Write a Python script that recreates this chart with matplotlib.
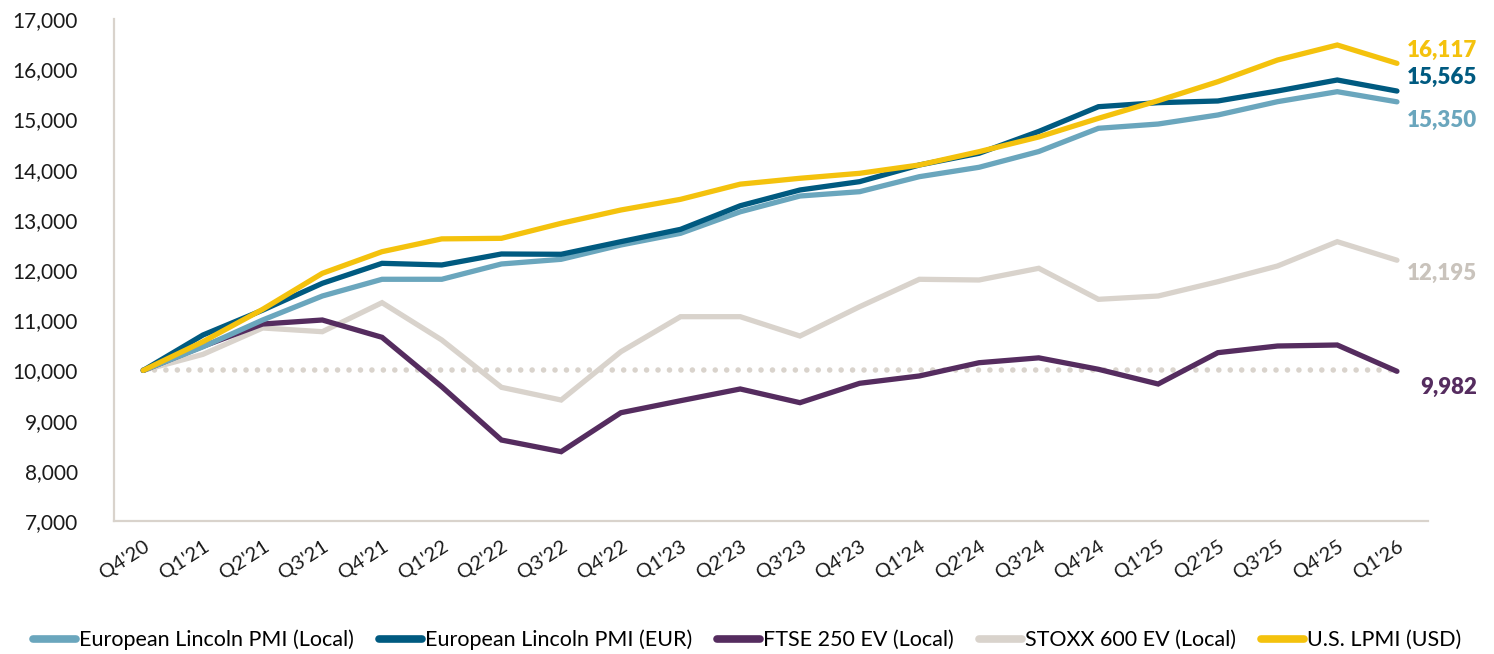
import matplotlib
matplotlib.use("Agg")
import matplotlib.pyplot as plt

plt.rcParams['font.family'] = ['Lato', 'DejaVu Sans']

quarters = ["Q4'20", "Q1'21", "Q2'21", "Q3'21", "Q4'21", "Q1'22", "Q2'22", "Q3'22",
            "Q4'22", "Q1'23", "Q2'23", "Q3'23", "Q4'23", "Q1'24", "Q2'24", "Q3'24",
            "Q4'24", "Q1'25", "Q2'25", "Q3'25", "Q4'25", "Q1'26"]

eu_local = [10000, 10470, 11004, 11482, 11815, 11815, 12120, 12213, 12498, 12731, 13160,
            13474, 13560, 13859, 14046, 14360, 14823, 14908, 15088, 15353, 15552, 15350]
eu_eur = [10000, 10705, 11200, 11735, 12133, 12100, 12319, 12313, 12564, 12810, 13280,
          13594, 13760, 14092, 14325, 14760, 15253, 15333, 15367, 15566, 15785, 15565]
ftse = [10000, 10480, 10924, 11004, 10659, 9675, 8613, 8381, 9157, 9396, 9630,
        9357, 9743, 9889, 10153, 10250, 10022, 9729, 10353, 10486, 10506, 9982]
stoxx = [10000, 10320, 10845, 10771, 11349, 10606, 9663, 9410, 10372, 11070, 11070,
         10685, 11269, 11815, 11801, 12034, 11416, 11482, 11767, 12080, 12564, 12195]
us = [10000, 10572, 11217, 11934, 12365, 12620, 12631, 12930, 13195, 13408, 13710,
      13827, 13926, 14092, 14357, 14650, 15022, 15373, 15751, 16183, 16482, 16117]
baseline = 10000

series = [
    ("European Lincoln PMI (Local)", eu_local, "#6aa6bd"),
    ("European Lincoln PMI (EUR)", eu_eur, "#005a80"),
    ("FTSE 250 EV (Local)", ftse, "#552c5f"),
    ("STOXX 600 EV (Local)", stoxx, "#d9d3cc"),
    ("U.S. LPMI (USD)", us, "#f4c20d"),
]
end_offsets = {  # pixel offsets for end labels (dy in px, positive = up)
    "European Lincoln PMI (Local)": -19,
    "European Lincoln PMI (EUR)": 14,
    "FTSE 250 EV (Local)": -16,
    "STOXX 600 EV (Local)": -13,
    "U.S. LPMI (USD)": 13,
}
end_text_colors = {
    "STOXX 600 EV (Local)": "#c9c3bc",
}

fig = plt.figure(figsize=(14.94, 6.54), dpi=100)
ax = fig.add_axes([114/1494, 1-521/654, (1428-114)/1494, (521-19)/654])

x = list(range(len(quarters)))
ax.plot(x, [baseline]*len(x), color="#d9d3cc", lw=4, linestyle=(0, (0.01, 2.05)),
        solid_capstyle='round', dash_capstyle='round', zorder=1)

order = ["STOXX 600 EV (Local)", "FTSE 250 EV (Local)", "European Lincoln PMI (Local)",
         "European Lincoln PMI (EUR)", "U.S. LPMI (USD)"]
lines = {}
for name, vals, col in series:
    ln, = ax.plot(x, vals, color=col, lw=3.8, solid_capstyle='round',
                  solid_joinstyle='miter', label=name, zorder=2 + order.index(name))
    lines[name] = ln
    ax.annotate(f"{vals[-1]:,}", xy=(x[-1], vals[-1]),
                xytext=(80*0.72, end_offsets[name]*0.72), textcoords='offset points',
                ha='right', va='center', fontsize=16, fontweight='heavy',
                color=end_text_colors.get(name, col), annotation_clip=False)

ax.set_xlim(-0.49, 21.52)
ax.set_ylim(7000, 17000)
ax.set_yticks(range(7000, 17001, 1000))
ax.set_yticklabels([f"{v:,}" for v in range(7000, 17001, 1000)])
ax.set_xticks(x)
ax.set_xticklabels(quarters, rotation=33, ha='right', va='top', rotation_mode='anchor')
ax.tick_params(axis='y', length=0, pad=26, labelsize=15, colors='#1a1a1a')
ax.tick_params(axis='x', length=0, pad=12, labelsize=14.5, colors='#1a1a1a')
for sp in ['top', 'right']:
    ax.spines[sp].set_visible(False)
for sp in ['left', 'bottom']:
    ax.spines[sp].set_color('#d9d3cc')
    ax.spines[sp].set_linewidth(1.6)

leg = fig.legend([lines[n] for n, _, _ in series], [n for n, _, _ in series],
                 loc='center', bbox_to_anchor=(0.5, 1-640/654), ncol=5, frameon=False,
                 fontsize=15.5, handlelength=2.0, handletextpad=0.15, columnspacing=1.15)
for h in leg.get_lines():
    h.set_linewidth(5.5)

fig.savefig("out.png", dpi=100)
